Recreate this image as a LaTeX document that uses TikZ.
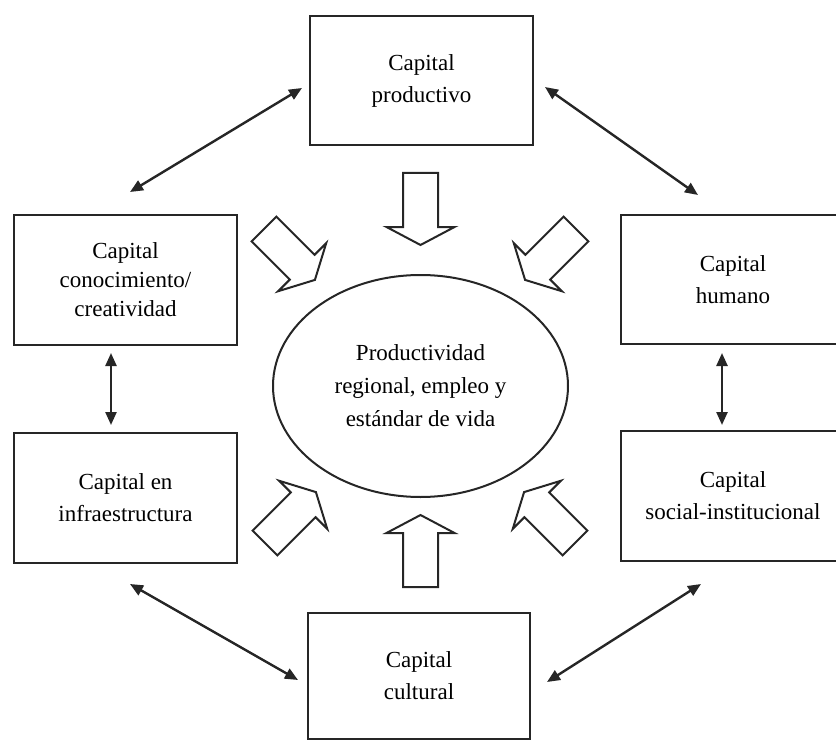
\documentclass[tikz,border=0pt]{standalone}
\usepackage{fontspec}
\setmainfont{Liberation Serif}
\usetikzlibrary{arrows.meta,shapes.geometric}
\begin{document}
\begin{tikzpicture}[x=1pt,y=-1pt,
 box/.style={draw=black!85, line width=2.5pt, minimum width=223pt, minimum height=129pt, inner sep=0pt, align=center, font=\fontsize{23}{32}\selectfont},
 link/.style={line width=2.4pt, draw=black!85, {Triangle[length=13pt,width=11pt]}-{Triangle[length=13pt,width=11pt]}},
 hollow/.style={draw=black!85, line width=2pt, fill=white, line join=miter},
 pics/blockarrow/.style={code={\draw[hollow] (0,-17.5) -- (54,-17.5) -- (54,-34) -- (72,0) -- (54,34) -- (54,17.5) -- (0,17.5) -- cycle;}}
]
\useasboundingbox (0,0) rectangle (836,741);
% boxes
\node[box] (prod) at (421.5,80.5) {Capital\\productivo};
\node[box, font=\fontsize{23}{29}\selectfont, minimum height=130pt] (know) at (125.5,280) {Capital\\conocimiento/\\creatividad};
\node[box, minimum width=224pt] (hum) at (733,279.5) {Capital\\humano};
\node[box, minimum height=130pt] (infra) at (125.5,498) {Capital en\\infraestructura};
\node[box, minimum width=224pt, minimum height=130pt] (soc) at (733,496) {Capital\\social-institucional};
\node[box, minimum width=222pt, minimum height=126pt] (cult) at (419,676) {Capital\\cultural};
% centre ellipse
\node[ellipse, draw=black!85, line width=2pt, minimum width=295pt, minimum height=222pt, inner sep=0pt, align=center, font=\fontsize{23}{33}\selectfont] (core) at (420.5,386) {Productividad\\regional, empleo y\\estándar de vida};
% double-headed connectors
\coordinate (pA) at (302,88);  \coordinate (kA) at (130,192);
\coordinate (pB) at (545,87);  \coordinate (hB) at (698,195);
\coordinate (kC) at (111,353); \coordinate (iC) at (111,425);
\coordinate (hD) at (722,353); \coordinate (sD) at (722,425);
\coordinate (iE) at (130,584); \coordinate (cE) at (298,680);
\coordinate (cF) at (547,682); \coordinate (sF) at (701,584);
\draw[link] (kA) -- (pA);
\draw[link] (pB) -- (hB);
\draw[link] (kC) -- (iC);
\draw[link] (hD) -- (sD);
\draw[link] (iE) -- (cE);
\draw[link] (cF) -- (sF);
% block arrows toward the centre
\pic[rotate=-90] at (420.5,173) {blockarrow};
\pic[rotate=90] at (420.5,587) {blockarrow};
\pic[rotate=-45] at (264,229) {blockarrow};
\pic[rotate=-135] at (576,229) {blockarrow};
\pic[rotate=45] at (265,543) {blockarrow};
\pic[rotate=135] at (575,543) {blockarrow};
\end{tikzpicture}
\end{document}
